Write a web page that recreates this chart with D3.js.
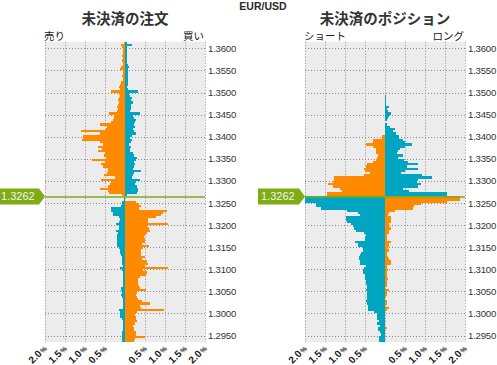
<!DOCTYPE html>
<html><head><meta charset="utf-8">
<script src="https://cdn.jsdelivr.net/npm/d3@7"></script>
<style>body{margin:0;background:#fff}svg{display:block}</style>
</head><body>
<svg id="c" width="497" height="365"></svg>
<script>
// ---- data ----
const pair = "EUR/USD";
const currentPrice = 1.3262;
const bucketSize = 0.0005;
const priceLevels = [
1.3610,1.3605,1.3600,1.3595,1.3590,1.3585,1.3580,1.3575,1.3570,1.3565,
1.3560,1.3555,1.3550,1.3545,1.3540,1.3535,1.3530,1.3525,1.3520,1.3515,
1.3510,1.3505,1.3500,1.3495,1.3490,1.3485,1.3480,1.3475,1.3470,1.3465,
1.3460,1.3455,1.3450,1.3445,1.3440,1.3435,1.3430,1.3425,1.3420,1.3415,
1.3410,1.3405,1.3400,1.3395,1.3390,1.3385,1.3380,1.3375,1.3370,1.3365,
1.3360,1.3355,1.3350,1.3345,1.3340,1.3335,1.3330,1.3325,1.3320,1.3315,
1.3310,1.3305,1.3300,1.3295,1.3290,1.3285,1.3280,1.3275,1.3270,1.3265,
1.3260,1.3255,1.3250,1.3245,1.3240,1.3235,1.3230,1.3225,1.3220,1.3215,
1.3210,1.3205,1.3200,1.3195,1.3190,1.3185,1.3180,1.3175,1.3170,1.3165,
1.3160,1.3155,1.3150,1.3145,1.3140,1.3135,1.3130,1.3125,1.3120,1.3115,
1.3110,1.3105,1.3100,1.3095,1.3090,1.3085,1.3080,1.3075,1.3070,1.3065,
1.3060,1.3055,1.3050,1.3045,1.3040,1.3035,1.3030,1.3025,1.3020,1.3015,
1.3010,1.3005,1.3000,1.2995,1.2990,1.2985,1.2980,1.2975,1.2970,1.2965,
1.2960,1.2955,1.2950,1.2945,1.2940,1.2935];
// open orders, % (left = sell side, right = buy side)
const orderSell = [
0.02,0.10,0.08,0.05,0.06,0.05,0.07,0.05,0.08,0.06,
0.05,0.10,0.12,0.06,0.05,0.07,0.06,0.05,0.10,0.12,
0.14,0.13,0.35,0.15,0.13,0.16,0.17,0.16,0.17,0.19,
0.18,0.20,0.40,0.27,0.28,0.30,0.35,0.62,0.46,0.48,
1.10,0.62,1.06,1.04,1.08,0.62,0.54,0.68,0.58,0.68,
0.50,0.52,0.47,0.82,0.50,0.60,0.56,0.42,0.43,0.46,
0.52,0.26,0.60,0.34,0.37,0.43,0.62,0.42,0.40,0.08,
0.03,0.03,0.08,0.08,0.10,0.35,0.35,0.30,0.30,0.16,
0.13,0.14,0.22,0.15,0.14,0.22,0.18,0.21,0.19,0.21,
0.19,0.21,0.19,0.16,0.13,0.12,0.10,0.08,0.08,0.07,
0.07,0.06,0.13,0.08,0.06,0.05,0.06,0.05,0.05,0.04,
0.06,0.09,0.09,0.08,0.09,0.07,0.05,0.04,0.05,0.05,
0.05,0.15,0.12,0.12,0.12,0.07,0.06,0.05,0.05,0.06,
0.06,0.07,0.08,0.07,0.07,0.08];
const orderBuy = [
0.06,0.17,0.06,0.05,0.06,0.05,0.06,0.05,0.06,0.05,
0.07,0.10,0.08,0.07,0.08,0.07,0.08,0.07,0.08,0.07,
0.06,0.07,0.32,0.10,0.12,0.18,0.15,0.19,0.14,0.16,
0.15,0.12,0.37,0.20,0.22,0.27,0.25,0.22,0.24,0.20,
0.22,0.27,0.17,0.12,0.17,0.14,0.10,0.14,0.12,0.13,
0.19,0.23,0.30,0.27,0.23,0.25,0.22,0.21,0.40,0.23,
0.21,0.17,0.37,0.28,0.25,0.31,0.32,0.32,0.30,0.06,
0.00,0.00,0.27,0.36,0.39,0.35,1.04,0.96,0.90,0.77,
0.57,0.57,1.07,0.56,0.59,0.62,0.54,0.51,0.47,0.49,
0.50,0.42,0.61,0.46,0.39,0.40,0.39,0.50,0.42,0.54,
0.58,0.50,1.08,0.46,0.56,0.52,0.38,0.32,0.32,0.33,
0.34,0.38,0.52,0.31,0.28,0.30,0.32,0.42,0.62,0.38,
0.40,0.97,0.30,0.26,0.28,0.27,0.31,0.25,0.21,0.22,
0.23,0.27,0.27,0.50,0.25,0.22];
// open positions, % (left = short, right = long)
const posShort = [
0,0,0,0,0,0,0,0,0,0,
0,0,0,0,0,0,0,0,0,0,
0,0,0,0,0,0,0,0,0,0,
0,0,0,0,0,0,0,0,0,0,
0,0,0.08,0.08,0.30,0.30,0.47,0.30,0.22,0.22,
0.22,0.17,0.21,0.23,0.31,0.46,0.47,0.52,0.50,0.37,
0.52,1.27,1.27,1.31,1.42,1.29,1.12,1.08,1.46,1.46,
2.10,2.10,2.10,1.72,1.72,1.60,0.94,0.67,0.63,0.97,
0.97,0.94,0.85,0.79,0.77,0.73,0.52,0.48,0.50,0.50,
0.75,0.68,0.67,0.54,0.56,0.61,0.63,0.66,0.65,0.63,
0.63,0.48,0.53,0.56,0.54,0.50,0.50,0.49,0.48,0.48,
0.46,0.44,0.48,0.44,0.46,0.45,0.44,0.48,0.44,0.42,
0.42,0.42,0.28,0.21,0.21,0.19,0.14,0.19,0.13,0.17,
0.17,0.13,0.11,0.14,0.14,0.15];
const posLong = [
0,0,0,0,0,0,0,0,0,0,
0,0,0,0,0,0,0,0,0,0,
0,0,0,0,0.03,0.03,0.03,0.03,0.03,0.10,
0.04,0.08,0.15,0.11,0.07,0.05,0,0.04,0.12,0.25,
0.19,0.28,0.36,0.36,0.46,0.50,0.67,0.50,0.38,0.33,
0.29,0.44,0.33,0.47,0.57,0.83,0.54,0.83,0.50,0.40,
0.92,1.17,0.82,0.79,0.89,0.83,0.46,0.60,1.56,1.55,
1.87,1.87,1.54,0.90,0.72,0.71,0.25,0.10,0.08,0.14,
0.14,0.15,0.11,0.11,0.15,0.10,0.09,0.06,0.06,0.06,
0.14,0.10,0.09,0.08,0.09,0.06,0.04,0.08,0.11,0.14,
0.14,0.04,0.06,0.07,0.06,0.04,0.06,0.08,0.04,0.04,
0.04,0,0.11,0.04,0.04,0.03,0,0.04,0.04,0,
0.11,0.04,0,0,0,0,0,0,0,0.04,
0,0,0,0,0,0];
const yTicks = [1.3600,1.3550,1.3500,1.3450,1.3400,1.3350,1.3300,1.3250,1.3200,1.3150,1.3100,1.3050,1.3000,1.2950];
const xTicks = [-2,-1.5,-1,-0.5,0.5,1,1.5,2];
const gridX = [-2,-1.5,-1,-0.5,0,0.5,1,1.5,2];
const titles = ["未決済の注文","未決済のポジション"];
const sideLabels = [["売り","買い"],["ショート","ロング"]];

// ---- drawing ----
const ORANGE="#ff8a00", TEAL="#00a5c2", GREEN="#7fab14", BG="#ececec", GRID="#8a8a8a";
const svg = d3.select("#c");
const yMin = 1.2935, yMax = 1.3615;
const y = d3.scaleLinear().domain([yMin, yMax]).range([342.2, 41.7]);

const panels = [
  {x0:45, x1:205, left:orderSell, right:orderBuy, title:titles[0], labels:sideLabels[0]},
  {x0:305, x1:465, left:posShort, right:posLong, title:titles[1], labels:sideLabels[1]}
];

svg.append("text").attr("x",263).attr("y",10).attr("text-anchor","middle")
  .attr("font-family","Liberation Sans, Arial, sans-serif").attr("font-weight","bold")
  .attr("font-size",10.5).attr("fill","#2a2a2a").text(pair);

panels.forEach(p => {
  const x = d3.scaleLinear().domain([-2,2]).range([p.x0,p.x1]);
  const g = svg.append("g");
  const top = y(yMax), bot = y(yMin);
  g.append("rect").attr("x",p.x0).attr("y",top).attr("width",p.x1-p.x0).attr("height",bot-top).attr("fill",BG);
  // grid
  g.selectAll(".gx").data(gridX).join("line")
    .attr("x1",d=>Math.round(x(d))+0.5).attr("x2",d=>Math.round(x(d))+0.5)
    .attr("y1",top).attr("y2",bot)
    .attr("stroke",GRID).attr("stroke-dasharray","1,2");
  g.selectAll(".gy").data(yTicks).join("line")
    .attr("x1",p.x0).attr("x2",p.x1+1)
    .attr("y1",d=>Math.round(y(d))+0.5).attr("y2",d=>Math.round(y(d))+0.5)
    .attr("stroke",GRID).attr("stroke-dasharray","1,2");
  // bars
  const rows = priceLevels.map((pr,i)=>({pr, l:p.left[i], r:p.right[i], above: pr >= currentPrice}));
  const bars = g.append("g").attr("shape-rendering","crispEdges");
  bars.selectAll(".bl").data(rows.filter(d=>d.l>0)).join("rect")
    .attr("x",d=>x(-Math.min(d.l,2))).attr("width",d=>x(0)-x(-Math.min(d.l,2)))
    .attr("y",d=>y(d.pr+bucketSize)).attr("height",d=>y(d.pr)-y(d.pr+bucketSize))
    .attr("fill",d=>d.above?ORANGE:TEAL);
  bars.selectAll(".br").data(rows.filter(d=>d.r>0)).join("rect")
    .attr("x",x(0)).attr("width",d=>x(Math.min(d.r,2))-x(0))
    .attr("y",d=>y(d.pr+bucketSize)).attr("height",d=>y(d.pr)-y(d.pr+bucketSize))
    .attr("fill",d=>d.above?TEAL:ORANGE);
  // current price line
  const cy = y(currentPrice) - 0.7;
  g.append("line").attr("x1",p.x0).attr("x2",p.x1).attr("y1",cy).attr("y2",cy)
    .attr("stroke",GREEN).attr("stroke-width",1.5);
  g.append("path")
    .attr("d",`M${p.x0-47},${cy-8.5}H${p.x0-6}L${p.x0},${cy-0.5}L${p.x0-6},${cy+7.5}H${p.x0-47}Z`)
    .attr("fill",GREEN);
  g.append("text").attr("x",p.x0-44).attr("y",cy+3.5).attr("fill","#f4f4f4")
    .attr("font-family","Liberation Sans, Arial, sans-serif").attr("font-size",11)
    .text(currentPrice.toFixed(4));
  // y axis
  const ya = g.append("g").attr("transform",`translate(${p.x1},0)`)
    .call(d3.axisRight(y).tickValues(yTicks).tickSize(0).tickPadding(3).tickFormat(d3.format(".4f")));
  ya.select(".domain").remove();
  ya.selectAll("text").attr("font-family","Liberation Sans, Arial, sans-serif").attr("font-size",9.6)
    .attr("letter-spacing","-0.2").attr("fill","#333");
  // x axis
  const xa = g.append("g").attr("transform",`translate(0,${bot})`)
    .call(d3.axisBottom(x).tickValues(xTicks).tickSize(0).tickFormat(d=>Math.abs(d).toFixed(1)));
  xa.select(".domain").remove();
  xa.selectAll("text").attr("x",0).attr("y",0).attr("dy",0)
    .attr("transform","translate(2,7) rotate(-45)").attr("text-anchor","end")
    .attr("font-family","Liberation Sans, Arial, sans-serif").attr("font-weight","bold")
    .attr("font-size",10).attr("fill","#222")
    .append("tspan").attr("font-size",7).attr("dx",1).text("%");
  // titles
  g.append("text").attr("x",(p.x0+p.x1)/2).attr("y",24).attr("text-anchor","middle")
    .attr("font-family","Noto Sans CJK JP, sans-serif").attr("font-weight","bold")
    .attr("font-size",14.5).attr("fill","#333").text(p.title);
  g.append("text").attr("x",p.x0-1).attr("y",40)
    .attr("font-family","Noto Sans CJK JP, sans-serif").attr("font-size",10.5).attr("fill","#222").text(p.labels[0]);
  g.append("text").attr("x",p.x1-1).attr("y",40).attr("text-anchor","end")
    .attr("font-family","Noto Sans CJK JP, sans-serif").attr("font-size",10.5).attr("fill","#222").text(p.labels[1]);
});
</script>
</body></html>
